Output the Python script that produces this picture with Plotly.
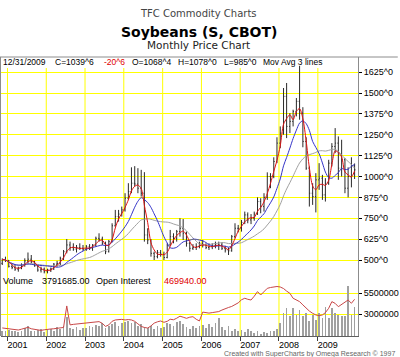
import plotly.graph_objects as go
import pandas as pd

# ---------------- data ----------------
first_month = "2000-11-01"
last_month = "2009-12-01"

opens = [
    480, 503,
    498, 462, 455, 445, 452, 470, 495, 505, 488, 465, 440, 445,
    430, 440, 448, 475, 480, 510, 550, 590, 575, 565, 575, 570,
    565, 580, 570, 590, 630, 625, 600, 550, 610, 705, 760, 775,
    800, 870, 910, 960, 955, 930, 900, 650, 620, 540, 520, 545,
    535, 515, 590, 640, 630, 670, 690, 660, 600, 570, 575, 580,
    600, 590, 575, 580, 585, 590, 590, 570, 560, 555, 640, 690,
    690, 725, 770, 740, 750, 775, 850, 820, 875, 1000, 1000, 1090,
    1200, 1260, 1480, 1300, 1330, 1390, 1450, 1380, 1210, 1050, 900, 880,
    980, 990, 890, 960, 1080, 1180, 1200, 1050, 1100, 930, 1000, 1068.5,
]
highs = [
    510, 520,
    500, 475, 470, 460, 480, 510, 545, 530, 495, 472, 460, 455,
    448, 455, 482, 495, 520, 560, 625, 610, 600, 590, 600, 590,
    590, 595, 595, 640, 660, 640, 610, 620, 720, 800, 800, 820,
    900, 960, 1055, 1062, 1050, 1040, 1026, 690, 625, 550, 560, 560,
    550, 600, 680, 660, 680, 750, 745, 670, 610, 595, 600, 610,
    620, 600, 600, 600, 610, 610, 605, 585, 575, 650, 720, 710,
    740, 790, 785, 775, 790, 875, 870, 900, 1025, 1020, 1115, 1235,
    1300, 1530, 1560, 1380, 1400, 1470, 1663, 1415, 1235, 1060, 960, 1020,
    1080, 1010, 990, 1100, 1200, 1290, 1240, 1220, 1110, 1055, 1115, 1078,
]
lows = [
    470, 488,
    455, 445, 435, 430, 445, 460, 480, 480, 460, 430, 425, 420,
    420, 428, 440, 460, 470, 500, 540, 555, 555, 545, 560, 555,
    555, 560, 555, 580, 610, 590, 535, 545, 605, 700, 730, 760,
    790, 860, 900, 940, 900, 880, 610, 595, 520, 500, 510, 520,
    500, 510, 585, 600, 610, 640, 620, 580, 550, 560, 560, 570,
    575, 565, 560, 565, 570, 560, 560, 545, 530, 550, 630, 665,
    670, 715, 720, 715, 735, 770, 780, 790, 860, 930, 990, 1080,
    1170, 1250, 1230, 1260, 1300, 1360, 1340, 1175, 1040, 820, 830, 785,
    920, 860, 850, 950, 1060, 1140, 980, 1000, 900, 875, 935, 985,
]
closes = [
    503, 498,
    462, 455, 445, 452, 470, 495, 505, 488, 465, 440, 445, 430,
    440, 448, 475, 480, 510, 550, 590, 575, 565, 575, 570, 565,
    580, 570, 590, 630, 625, 600, 550, 610, 705, 760, 775, 800,
    870, 910, 960, 955, 930, 900, 650, 620, 540, 520, 545, 535,
    515, 590, 640, 630, 670, 690, 660, 600, 570, 575, 580, 600,
    590, 575, 580, 585, 590, 590, 570, 560, 555, 640, 690, 690,
    725, 770, 740, 750, 775, 850, 820, 875, 1000, 1000, 1090, 1200,
    1260, 1480, 1300, 1330, 1390, 1450, 1380, 1210, 1050, 900, 880, 980,
    990, 890, 960, 1080, 1180, 1200, 1050, 1100, 930, 1000, 1060.375, 1039.75,
]
volume = [
    1.0e6, 0.9e6,
    1.1e6, 0.9e6, 1.0e6, 0.8e6, 1.0e6, 1.3e6, 1.6e6, 1.0e6, 0.9e6, 1.1e6, 1.2e6, 0.8e6,
    1.1e6, 1.2e6, 1.0e6, 1.4e6, 1.2e6, 1.5e6, 2.6e6, 1.3e6, 1.2e6, 1.4e6, 1.1e6, 1.3e6,
    1.3e6, 1.5e6, 1.4e6, 1.7e6, 1.5e6, 1.9e6, 1.3e6, 1.6e6, 1.8e6, 2.0e6, 1.6e6, 1.9e6,
    2.0e6, 2.1e6, 1.9e6, 2.0e6, 1.6e6, 1.8e6, 1.4e6, 1.3e6, 1.5e6, 1.2e6, 1.6e6, 1.3e6,
    1.4e6, 1.9e6, 1.8e6, 1.6e6, 2.0e6, 2.2e6, 1.8e6, 1.4e6, 1.2e6, 1.6e6, 1.3e6, 1.5e6,
    1.7e6, 1.3e6, 1.8e6, 1.4e6, 1.9e6, 2.5e6, 1.4e6, 1.1e6, 1.5e6, 1.0e6, 1.2e6, 0.9e6,
    1.1e6, 0.8e6, 1.2e6, 0.9e6, 0.7e6, 1.0e6, 0.6e6, 0.8e6, 0.7e6, 1.0e6, 0.9e6, 1.2e6,
    1.9e6, 3.1e6, 3.7e6, 2.7e6, 3.7e6, 2.9e6, 3.5e6, 2.7e6, 3.1e6, 2.1e6, 2.9e6, 2.3e6,
    3.1e6, 2.5e6, 3.9e6, 2.5e6, 3.7e6, 3.1e6, 2.9e6, 2.7e6, 2.8e6, 6.4e6, 2.9e6, 3791685,
]
open_interest = [
    190e3, 185e3,
    180e3, 176e3, 173e3, 170e3, 178e3, 190e3, 196e3, 182e3, 175e3, 170e3, 166e3, 172e3,
    178e3, 180e3, 182e3, 185e3, 190e3, 195e3, 405e3, 220e3, 225e3, 228e3, 232e3, 236e3,
    240e3, 242e3, 245e3, 250e3, 252e3, 235e3, 205e3, 220e3, 255e3, 268e3, 272e3, 274e3,
    268e3, 272e3, 268e3, 255e3, 230e3, 205e3, 195e3, 189e3, 210e3, 237e3, 250e3, 258e3,
    245e3, 255e3, 275e3, 270e3, 285e3, 305e3, 295e3, 284e3, 295e3, 300e3, 275e3, 258e3,
    345e3, 340e3, 335e3, 340e3, 345e3, 350e3, 365e3, 380e3, 390e3, 400e3, 420e3, 435e3,
    465e3, 480e3, 470e3, 463e3, 500e3, 545e3, 512e3, 540e3, 577e3, 585e3, 593e3, 595e3,
    590e3, 575e3, 550e3, 528e3, 480e3, 465e3, 447e3, 415e3, 382e3, 355e3, 333e3, 317e3,
    310e3, 317e3, 340e3, 382e3, 447e3, 430e3, 398e3, 420e3, 440e3, 463e3, 431e3, 469940,
]
ma_lengths = [3, 9, 18]
years = [2001, 2002, 2003, 2004, 2005, 2006, 2007, 2008, 2009]
price_ticks = [500, 625, 750, 875, 1000, 1125, 1250, 1375, 1500, 1625]
volume_ticks = [3000000, 5500000]

header_texts = [
    ("12/31/2009", "black"), ("C=1039^6", "black"), ("-20^6", "#e00000"),
    ("O=1068^4", "black"), ("H=1078^0", "black"), ("L=985^0", "black"),
    ("Mov Avg 3 lines", "black"),
]
volume_texts = [
    ("Volume", "black"), ("3791685.00", "black"),
    ("Open Interest", "black"), ("469940.00", "#e00000"),
]

# ---------------- geometry / style ----------------
W, H = 400, 357
ML, MR, MT, MB = 1, 40, 57, 21
PW, PH = W - ML - MR, H - MT - MB


def px_x(p):
    return (p - ML) / PW


def px_y(p):
    return (H - MB - p) / PH


split = px_y(274)
FONT = "Liberation Sans, Arial, sans-serif"

dates = pd.date_range(first_month, last_month, freq="MS") + pd.Timedelta(days=12)
close_s = pd.Series(closes, dtype=float)
ma_colors = ["#e01010", "#3434c8", "#a0a0a0"]

fig = go.Figure()

# volume bars and open interest (lower panel)
fig.add_trace(go.Bar(x=dates, y=volume, xaxis="x", yaxis="y2",
                     marker=dict(color="#a0a0a0", line=dict(width=0)),
                     width=7 * 86400000))
fig.add_trace(go.Scatter(x=dates, y=open_interest, xaxis="x", yaxis="y3",
                         mode="lines", line=dict(color="#c84848", width=1)))

# moving averages
for n, c in zip(ma_lengths[::-1], ma_colors[::-1]):
    ma = close_s.rolling(n, min_periods=1).mean()
    fig.add_trace(go.Scatter(x=dates, y=ma, xaxis="x", yaxis="y", mode="lines",
                             line=dict(color=c, width=1, shape="spline", smoothing=0.8)))

# price bars
fig.add_trace(go.Ohlc(x=dates, open=opens, high=highs, low=lows, close=closes,
                      xaxis="x", yaxis="y", tickwidth=0.3,
                      increasing=dict(line=dict(color="#2a2a2a", width=1)),
                      decreasing=dict(line=dict(color="#2a2a2a", width=1))))

# vertical year grid lines (drawn under data, below the header band)
shapes = []
for yv in years:
    shapes.append(dict(type="line", xref="x", yref="paper",
                       x0=f"{yv}-01-01", x1=f"{yv}-01-01", y0=0, y1=px_y(68),
                       line=dict(color="#ffff00", width=1), layer="below"))
# borders
shapes.append(dict(type="line", xref="paper", yref="paper", x0=px_x(0.5), x1=px_x(0.5),
                   y0=0, y1=1, line=dict(color="#8c8c8c", width=1)))
shapes.append(dict(type="line", xref="paper", yref="paper", x0=px_x(0), x1=px_x(400),
                   y0=1, y1=1, line=dict(color="#8c8c8c", width=1)))

annotations = []
annotations.append(dict(text="TFC Commodity Charts", x=px_x(200), y=px_y(6),
                        xref="paper", yref="paper", showarrow=False,
                        font=dict(family="DejaVu Sans", size=10, color="#444444")))
annotations.append(dict(text="<b>Soybeans (S, CBOT)</b>", x=px_x(200), y=px_y(21.5),
                        xref="paper", yref="paper", showarrow=False,
                        font=dict(family="DejaVu Sans", size=14, color="#000000")))
annotations.append(dict(text="Monthly Price Chart", x=px_x(200), y=px_y(37),
                        xref="paper", yref="paper", showarrow=False,
                        font=dict(family="DejaVu Sans", size=10.5, color="#222222")))

header_x = [1, 53, 103, 130.7, 177, 223, 262]
for (t, c), xp in zip(header_texts, header_x):
    annotations.append(dict(text=t, x=px_x(xp), y=px_y(62), xref="paper", yref="paper",
                            xanchor="left", yanchor="middle", showarrow=False,
                            font=dict(family=FONT, size=8.5, color=c)))
vol_x = [1.5, 40, 95, 163]
for (t, c), xp in zip(volume_texts, vol_x):
    annotations.append(dict(text=t, x=px_x(xp), y=px_y(281), xref="paper", yref="paper",
                            xanchor="left", yanchor="middle", showarrow=False,
                            font=dict(family=FONT, size=9, color=c)))
annotations.append(dict(text="Created with SuperCharts by Omega Research \u00a9 1997",
                        x=px_x(399), y=px_y(353.5), xref="paper", yref="paper",
                        xanchor="right", yanchor="middle", showarrow=False,
                        font=dict(family=FONT, size=7, color="#666666")))

fig.update_layout(
    width=W, height=H,
    margin=dict(l=ML, r=MR, t=MT, b=MB, pad=0),
    paper_bgcolor="white", plot_bgcolor="white",
    showlegend=False, bargap=0,
    shapes=shapes, annotations=annotations,
    xaxis=dict(
        type="date", range=["2000-11-01", "2010-01-14"], anchor="y2",
        rangeslider=dict(visible=False),
        tickmode="array", tickvals=[f"{y}-04-05" for y in years],
        ticktext=[str(y) for y in years], ticks="", showgrid=False,
        tickfont=dict(family=FONT, size=9, color="black"),
        showline=True, linecolor="#606060", linewidth=1, zeroline=False,
        minor=dict(tickmode="array", tickvals=[f"{y}-01-01" for y in years],
                   ticks="outside", ticklen=4, tickcolor="#404040", showgrid=False),
    ),
    yaxis=dict(
        domain=[split, 1], range=[416.2, 1715.6], side="right", anchor="x",
        tickmode="array", tickvals=price_ticks,
        ticktext=[f"{v}^0" for v in price_ticks],
        showgrid=True, gridcolor="#ffff00", gridwidth=1, zeroline=False,
        ticks="outside", ticklen=3, tickcolor="#000000",
        tickfont=dict(family=FONT, size=9, color="black"),
        showline=True, linecolor="#8c8c8c", linewidth=1,
    ),
    yaxis2=dict(
        domain=[0, split], range=[0.343e6, 7.831e6], side="right", anchor="x",
        tickmode="array", tickvals=volume_ticks,
        ticktext=[str(v) for v in volume_ticks],
        showgrid=True, gridcolor="#ffff00", gridwidth=1, zeroline=False,
        ticks="outside", ticklen=3, tickcolor="#000000",
        tickfont=dict(family=FONT, size=9, color="black"),
        showline=True, linecolor="#8c8c8c", linewidth=1,
    ),
    yaxis3=dict(
        overlaying="y2", range=[111.4e3, 717e3], visible=False, anchor="x",
    ),
)

fig.write_html("out.html", config={"displayModeBar": False},
               post_script="document.body.style.margin='0';")
